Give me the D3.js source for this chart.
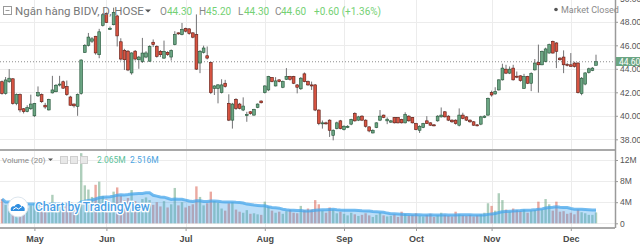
<!DOCTYPE html>
<html>
<head>
<meta charset="utf-8">
<script src="https://cdn.jsdelivr.net/npm/d3@7"></script>
<style>
  body { margin: 0; background: #fff; }
  svg { display: block; font-family: Roboto, "Liberation Sans", sans-serif; }
</style>
</head>
<body>
<div id="chart"></div>
<script>
// daily candles, one entry per trading day (late April .. 10 Dec)
var opens = [
  42.9, 41.9, 42.9, 43.15, 41.05, 41.8, 40.6, 40.35, 40.6, 40.0,
  41.7, 41.8, 40.9, 40.5, 41.95, 42.05, 42.65, 42.9, 42.5, 41.6,
  41.0, 40.8, 41.9, 45.4, 46.0, 46.35, 46.77, 45.2, 47.7, 48.7,
  47.35, 47.75, 48.5, 46.3, 45.57, 45.5, 43.65, 45.5, 44.77, 44.63,
  45.0, 44.65, 46.26, 45.91, 45.49, 44.91, 45.4, 45.0, 46.06, 47.06,
  46.91, 47.43, 47.4, 47.06, 46.91, 44.49, 45.4, 45.11, 44.54, 42.34,
  42.34, 41.97, 42.77, 41.06, 39.63, 41.4, 41.0, 40.49, 40.06, 40.34,
  40.06, 40.71, 41.26, 41.97, 42.2, 43.26, 42.54, 43.06, 42.43, 43.11,
  43.34, 43.34, 42.63, 42.3, 43.57, 42.91, 42.63, 42.63, 40.49, 39.34,
  39.4, 39.63, 38.34, 38.91, 39.57, 38.83, 39.0, 39.29, 40.2, 39.63,
  39.97, 39.63, 39.06, 38.54, 39.0, 39.63, 40.06, 39.57, 39.46, 39.86,
  39.86, 39.69, 39.4, 39.97, 39.86, 39.34, 38.77, 39.0, 39.57, 39.4,
  39.23, 39.57, 39.91, 40.34, 39.97, 39.63, 39.63, 39.2, 40.06, 39.91,
  39.63, 39.49, 39.23, 39.29, 39.86, 40.06, 41.97, 41.86, 42.2, 43.06,
  43.97, 43.63, 44.06, 43.37, 43.4, 42.34, 43.34, 42.77, 43.91, 44.54,
  44.34, 44.63, 45.34, 46.34, 46.2, 44.91, 45.0, 44.37, 44.34, 44.49,
  44.49, 41.9, 42.7, 43.7, 43.86, 44.3
];
var highs = [
  43.0, 43.3, 43.97, 43.2, 41.9, 41.9, 40.65, 40.9, 41.8, 41.1,
  42.5, 41.9, 41.1, 41.45, 43.4, 42.7, 43.4, 43.0, 43.0, 41.7,
  41.05, 41.9, 44.8, 46.1, 47.05, 46.7, 46.8, 47.4, 48.75, 48.8,
  47.6, 49.2, 48.6, 46.6, 45.7, 45.6, 45.4, 45.6, 45.1, 46.63,
  45.5, 46.0, 46.5, 46.0, 45.6, 46.4, 45.5, 45.65, 47.2, 47.1,
  47.9, 47.5, 47.45, 47.1, 48.63, 45.6, 45.97, 45.9, 44.6, 42.6,
  42.7, 43.11, 43.06, 41.83, 41.1, 41.5, 41.1, 41.57, 40.34, 40.4,
  40.6, 41.05, 41.3, 42.6, 43.4, 43.3, 43.29, 43.1, 43.0, 44.06,
  43.4, 43.4, 42.7, 43.3, 43.69, 43.0, 42.91, 42.7, 40.55, 39.6,
  39.5, 39.7, 38.85, 39.5, 39.65, 39.2, 39.2, 39.75, 40.3, 40.0,
  40.05, 39.7, 39.1, 38.85, 39.45, 40.49, 40.1, 39.86, 39.65, 39.9,
  39.9, 39.75, 40.3, 40.05, 39.9, 39.4, 39.2, 39.4, 39.97, 39.45,
  39.3, 40.05, 40.71, 40.4, 40.05, 39.7, 39.7, 40.63, 40.26, 39.97,
  39.7, 39.55, 39.3, 40.0, 40.05, 41.55, 42.14, 42.43, 43.1, 44.43,
  44.34, 44.2, 44.34, 43.77, 43.45, 43.57, 43.4, 43.7, 44.83, 46.06,
  45.55, 45.8, 46.14, 46.4, 46.26, 45.0, 45.57, 44.5, 45.34, 44.6,
  44.55, 43.3, 43.7, 44.1, 44.15, 45.2
];
var lows = [
  41.8, 41.8, 42.8, 40.95, 40.9, 40.3, 40.2, 40.3, 40.5, 39.9,
  41.6, 41.1, 40.6, 40.45, 41.9, 42.0, 42.5, 42.3, 41.7, 40.85,
  40.7, 40.0, 41.8, 45.35, 45.9, 46.2, 45.2, 44.9, 47.6, 47.9,
  47.3, 47.7, 45.9, 44.7, 43.9, 43.8, 43.5, 44.7, 44.0, 44.5,
  44.9, 44.6, 45.85, 44.95, 45.0, 44.85, 45.1, 44.7, 46.0, 46.9,
  46.85, 47.1, 46.9, 46.6, 43.9, 43.63, 45.3, 44.8, 41.85, 41.77,
  41.06, 41.9, 42.4, 39.55, 38.91, 40.5, 40.55, 40.4, 39.49, 40.1,
  40.0, 40.65, 41.05, 41.9, 42.1, 42.85, 42.5, 42.85, 42.35, 43.05,
  43.0, 42.7, 41.91, 42.2, 42.85, 42.55, 42.2, 40.4, 39.2, 38.91,
  39.25, 38.2, 37.91, 38.85, 38.85, 38.75, 38.95, 39.2, 39.5, 39.55,
  39.55, 39.0, 38.6, 38.5, 38.95, 39.55, 39.8, 39.29, 39.4, 39.35,
  39.35, 39.35, 39.35, 39.5, 39.35, 38.77, 38.54, 38.95, 39.3, 39.15,
  39.1, 39.5, 39.85, 39.85, 39.55, 39.4, 39.25, 39.1, 39.7, 39.55,
  39.4, 39.15, 39.1, 39.2, 39.8, 40.0, 41.63, 41.8, 42.15, 43.0,
  43.55, 43.55, 43.0, 43.2, 42.9, 42.3, 42.7, 42.1, 43.85, 41.97,
  44.3, 44.55, 45.3, 45.3, 44.06, 44.7, 43.63, 44.2, 44.2, 44.1,
  41.9, 41.75, 42.6, 43.6, 43.8, 44.3
];
var closes = [
  41.9, 43.05, 43.2, 41.05, 41.8, 40.5, 40.35, 40.7, 41.0, 41.05,
  41.97, 41.2, 40.75, 41.4, 42.2, 42.6, 42.7, 42.35, 41.8, 40.9,
  40.85, 41.8, 44.75, 46.0, 46.7, 46.55, 45.35, 47.15, 48.6, 47.95,
  47.45, 48.8, 46.8, 44.83, 44.77, 43.9, 45.35, 44.83, 45.0, 45.34,
  45.35, 45.9, 46.06, 45.06, 45.2, 45.49, 45.2, 45.57, 46.91, 46.97,
  47.34, 47.2, 47.0, 46.69, 43.97, 45.49, 45.77, 44.91, 41.97, 42.54,
  42.63, 42.63, 42.49, 39.63, 41.0, 40.63, 40.63, 40.83, 40.1, 40.2,
  40.54, 41.0, 41.11, 42.54, 43.34, 42.91, 42.97, 42.91, 42.91, 43.34,
  43.11, 42.77, 42.43, 43.2, 42.91, 42.63, 42.54, 40.49, 39.34, 39.4,
  39.34, 38.77, 38.77, 39.4, 38.91, 39.11, 39.11, 39.69, 39.57, 39.91,
  39.63, 39.11, 38.71, 38.77, 39.4, 39.97, 39.86, 39.71, 39.57, 39.4,
  39.4, 39.4, 40.11, 39.57, 39.4, 38.83, 39.11, 39.34, 39.34, 39.2,
  39.2, 39.97, 40.06, 39.91, 39.63, 39.49, 39.34, 40.06, 39.77, 39.63,
  39.49, 39.2, 39.2, 39.91, 39.97, 41.49, 41.77, 42.06, 43.06, 44.06,
  43.63, 43.97, 43.06, 43.34, 43.0, 43.34, 42.77, 43.6, 44.49, 44.34,
  45.49, 45.69, 46.06, 45.34, 45.49, 44.77, 44.34, 44.34, 44.2, 44.2,
  41.97, 43.2, 43.65, 44.0, 44.06, 44.6
];
// volume in millions of shares
var volumes = [
  4.6, 3.5, 4.0, 4.3, 3.2, 3.8, 3.3, 2.9, 3.4, 3.8,
  3.0, 3.6, 3.0, 3.3, 5.4, 3.4, 3.9, 3.2, 3.4, 4.0,
  2.9, 3.7, 13.3, 7.2, 6.4, 5.0, 7.3, 7.9, 5.2, 4.6,
  3.8, 6.0, 6.8, 5.2, 4.4, 4.8, 6.3, 4.2, 3.8, 4.6,
  4.9, 4.4, 3.5, 4.0, 3.2, 4.2, 3.0, 3.6, 6.7, 3.4,
  4.0, 3.0, 3.3, 3.6, 7.0, 5.0, 3.4, 3.8, 6.0, 4.2,
  3.9, 2.8, 2.4, 3.8, 4.0, 2.6, 2.2, 2.0, 2.5, 1.8,
  1.9, 1.7, 1.6, 4.1, 3.2, 2.4, 2.0, 2.2, 1.8, 2.3,
  2.6, 2.0, 1.9, 3.3, 2.5, 2.8, 2.6, 4.4, 3.6, 2.4,
  2.0, 3.0, 2.6, 1.9, 2.2, 1.8, 1.5, 2.0, 1.7, 1.4,
  1.6, 1.9, 1.5, 1.2, 1.6, 2.0, 1.5, 1.3, 1.4, 1.7,
  1.2, 2.2, 1.8, 1.5, 1.6, 1.9, 1.4, 1.3, 1.6, 1.8,
  1.2, 1.5, 2.0, 1.6, 1.4, 1.3, 2.2, 1.7, 1.5, 1.4,
  1.6, 1.3, 1.5, 1.7, 2.0, 3.8, 3.3, 2.4, 5.7, 4.4,
  2.6, 2.2, 2.8, 2.5, 2.3, 2.6, 2.0, 2.4, 2.5, 4.1,
  2.6, 4.6, 3.6, 2.4, 4.1, 2.2, 2.3, 1.8, 2.0, 1.7,
  2.6, 2.1, 1.9, 1.6, 1.6, 2.065
];

var monthIndex = [9, 29, 51, 73, 95, 115, 136, 158];
var monthLabels = ["May", "Jun", "Jul", "Aug", "Sep", "Oct", "Nov", "Dec"];
var priceTicks = [50, 48, 46, 44, 42, 40, 38];
var volumeTicks = [0, 4, 8, 12];
var volumeTickLabels = ["0", "4M", "8M", "12M"];
var lastPrice = 44.60;
var legendKeys = ["O", "H", "L", "C"];
var legendValues = ["44.30", "45.20", "44.30", "44.60"];
var legendChange = "+0.60 (+1.36%)";
var volumeLegendValues = ["2.065M", "2.516M"];
var maLength = 20;

var drawChart = (function () {
    const width = 640, height = 245;
    const axisX = 615;
    const priceBottom = 150, volumeBottom = 228;

    var svg = d3.select("#chart").append("svg")
        .attr("width", width)
        .attr("height", height);

    var x = d3.scaleLinear().domain([0, opens.length - 1]).range([2, 596]);
    var y = d3.scaleLinear().domain([38, 48]).range([139.3, 21.8]);
    var yv = d3.scaleLinear().domain([0, 12]).range([223.3, 160]);

    var candles = opens.map(function (o, i) {
        return { i: i, o: o, h: highs[i], l: lows[i], c: closes[i], v: volumes[i] };
    });

    // 20 day moving average of volume
    var ma = candles.map(function (d, i) {
        return { i: i, v: d3.mean(volumes.slice(Math.max(0, i - maLength + 1), i + 1)) };
    });

    svg.append("defs").append("clipPath").attr("id", "priceClip")
        .append("rect").attr("x", 0).attr("y", 0).attr("width", axisX).attr("height", priceBottom);

    // grid
    var grid = svg.append("g").attr("stroke", "#ececec").attr("stroke-width", 1);
    grid.selectAll(".vg").data(monthIndex).enter().append("line")
        .attr("x1", function (d) { return Math.round(x(d)) + 0.5; })
        .attr("x2", function (d) { return Math.round(x(d)) + 0.5; })
        .attr("y1", 0).attr("y2", volumeBottom);
    grid.selectAll(".pg").data(priceTicks.filter(function (d) { return d < 50; })).enter().append("line")
        .attr("x1", 0).attr("x2", axisX)
        .attr("y1", function (d) { return Math.round(y(d)) + 0.5; })
        .attr("y2", function (d) { return Math.round(y(d)) + 0.5; });
    grid.selectAll(".vgr").data(volumeTicks).enter().append("line")
        .attr("x1", 0).attr("x2", axisX)
        .attr("y1", function (d) { return Math.round(yv(d)) + 0.5; })
        .attr("y2", function (d) { return Math.round(yv(d)) + 0.5; });

    // last price dotted line
    svg.append("line")
        .attr("x1", 0).attr("x2", axisX)
        .attr("y1", y(lastPrice)).attr("y2", y(lastPrice))
        .attr("stroke", "#8c8c8c").attr("stroke-width", 1)
        .attr("stroke-dasharray", "1,2");

    // candles
    var bodyW = 2.8;
    var priceG = svg.append("g").attr("clip-path", "url(#priceClip)");
    priceG.selectAll(".wick").data(candles).enter().append("line")
        .attr("x1", function (d) { return x(d.i); })
        .attr("x2", function (d) { return x(d.i); })
        .attr("y1", function (d) { return y(d.h); })
        .attr("y2", function (d) { return y(d.l); })
        .attr("stroke", "#737375").attr("stroke-width", 1);
    priceG.selectAll(".body").data(candles).enter().append("rect")
        .attr("x", function (d) { return x(d.i) - bodyW / 2; })
        .attr("y", function (d) { return y(Math.max(d.o, d.c)); })
        .attr("width", bodyW)
        .attr("height", function (d) { return Math.max(1, Math.abs(y(d.o) - y(d.c))); })
        .attr("fill", function (d) { return d.c >= d.o ? "#6ba583" : "#d75442"; })
        .attr("stroke", function (d) { return d.c >= d.o ? "#225437" : "#5b1a13"; })
        .attr("stroke-width", 0.6);

    // volume bars
    svg.append("g").selectAll("rect").data(candles).enter().append("rect")
        .attr("x", function (d) { return x(d.i) - 1.2; })
        .attr("y", function (d) { return yv(d.v); })
        .attr("width", 2.4)
        .attr("height", function (d) { return yv(0) - yv(d.v); })
        .attr("fill", function (d) { return d.c >= d.o ? "rgba(107,165,131,0.55)" : "rgba(215,84,66,0.5)"; });

    // volume MA area + line
    svg.append("path").datum(ma)
        .attr("d", d3.area()
            .x(function (d) { return x(d.i); })
            .y0(yv(0))
            .y1(function (d) { return yv(d.v); }))
        .attr("fill", "rgba(60,160,235,0.35)");
    svg.append("path").datum(ma)
        .attr("d", d3.line()
            .x(function (d) { return x(d.i); })
            .y(function (d) { return yv(d.v); }))
        .attr("fill", "none")
        .attr("stroke", "rgba(70,165,235,0.75)")
        .attr("stroke-width", 3);

    // pane borders
    svg.append("line").attr("x1", 0).attr("x2", axisX).attr("y1", priceBottom).attr("y2", priceBottom)
        .attr("stroke", "#a9a9a9").attr("stroke-width", 2);
    svg.append("line").attr("x1", 0).attr("x2", axisX).attr("y1", volumeBottom).attr("y2", volumeBottom)
        .attr("stroke", "#a9a9a9").attr("stroke-width", 2);

    // right price and volume axes
    var pAxis = svg.append("g").attr("transform", "translate(" + axisX + ",0)")
        .call(d3.axisRight(y).tickValues(priceTicks).tickFormat(d3.format(".2f")).tickSize(3).tickPadding(2));
    var vAxis = svg.append("g").attr("transform", "translate(" + axisX + ",0)")
        .call(d3.axisRight(yv).tickValues(volumeTicks)
            .tickFormat(function (d, i) { return volumeTickLabels[i]; }).tickSize(3).tickPadding(2));
    [pAxis, vAxis].forEach(function (a) {
        a.select(".domain").remove();
        a.selectAll("line").attr("stroke", "#9a9a9a");
        a.selectAll("text").attr("fill", "#555").style("font-size", "8.5px");
    });
    svg.append("line").attr("x1", axisX + 0.5).attr("x2", axisX + 0.5).attr("y1", 0).attr("y2", volumeBottom)
        .attr("stroke", "#9a9a9a").attr("stroke-width", 1.5);

    // last price tag
    svg.append("rect")
        .attr("x", axisX + 1).attr("y", y(lastPrice) - 4.75)
        .attr("width", width - axisX).attr("height", 9)
        .attr("fill", "#6ba583");
    svg.append("text")
        .attr("x", axisX + 4).attr("y", y(lastPrice) + 2.8)
        .attr("fill", "#fff").style("font-size", "8.5px")
        .text(d3.format(".2f")(lastPrice));

    // time axis
    var tAxis = svg.append("g").attr("transform", "translate(0," + volumeBottom + ")")
        .call(d3.axisBottom(x).tickValues(monthIndex)
            .tickFormat(function (d, i) { return monthLabels[i]; }).tickSize(3).tickPadding(5));
    tAxis.select(".domain").remove();
    tAxis.selectAll("line").attr("stroke", "#9a9a9a");
    tAxis.selectAll("text").attr("fill", "#4a4a4a")
        .style("font-size", "9px").style("font-weight", "bold");

    // header legend
    var head = svg.append("g");
    head.append("rect").attr("x", 3.5).attr("y", 6.5).attr("width", 8).attr("height", 8)
        .attr("fill", "none").attr("stroke", "#9a9a9a");
    head.append("line").attr("x1", 5.5).attr("x2", 9.5).attr("y1", 10.5).attr("y2", 10.5)
        .attr("stroke", "#9a9a9a");
    head.append("text").attr("x", 15).attr("y", 15)
        .attr("fill", "#777").style("font-size", "11.5px")
        .text("Ngân hàng BIDV, D, HOSE");
    head.append("path").attr("d", "M145,9.5 L151,9.5 L148,12.5 Z").attr("fill", "#555");
    var keyX = [160, 199, 238, 275];
    var valX = [167, 206, 244, 281];
    head.selectAll(".k").data(legendKeys).enter().append("text")
        .attr("x", function (d, i) { return keyX[i]; }).attr("y", 15)
        .attr("fill", "#888").style("font-size", "10px").text(function (d) { return d; });
    head.selectAll(".v").data(legendValues).enter().append("text")
        .attr("x", function (d, i) { return valX[i]; }).attr("y", 15)
        .attr("fill", "#74d174").style("font-size", "10px").text(function (d) { return d; });
    head.append("text").attr("x", 314).attr("y", 15)
        .attr("fill", "#74d174").style("font-size", "10px").text(legendChange);

    head.append("circle").attr("cx", 556).attr("cy", 9.5).attr("r", 1.8).attr("fill", "#555");
    head.append("text").attr("x", 561).attr("y", 12.5)
        .attr("fill", "#8a8a8a").style("font-size", "9px").text("Market Closed");

    // volume legend
    var vl = svg.append("g");
    vl.append("text").attr("x", 2).attr("y", 163)
        .attr("fill", "#888").style("font-size", "8px").text("Volume (" + maLength + ")");
    vl.append("path").attr("d", "M48,158.5 L53,158.5 L50.5,161 Z").attr("fill", "#555");
    [60, 70, 80].forEach(function (bx) {
        vl.append("rect").attr("x", bx + 0.5).attr("y", 156.5).attr("width", 7).attr("height", 7)
            .attr("fill", "#e8e8e8").attr("stroke", "#cfcfcf");
    });
    vl.append("text").attr("x", 97).attr("y", 163)
        .attr("fill", "#5bbf9a").style("font-size", "8.5px").text(volumeLegendValues[0]);
    vl.append("text").attr("x", 130).attr("y", 163)
        .attr("fill", "#4aa3df").style("font-size", "8.5px").text(volumeLegendValues[1]);

    // watermark
    var wm = svg.append("g");
    wm.append("circle").attr("cx", 18).attr("cy", 207).attr("r", 10)
        .attr("fill", "#fff").attr("stroke", "#dde6ee");
    wm.append("path")
        .attr("d", "M11,211 C10,208 12,205.5 14.5,206.5 C15.5,203.5 19.5,203 21,206 C23.5,205.5 25.5,208 24.5,211 Z")
        .attr("fill", "#2f8ee0");
    wm.append("path").attr("d", "M13,209.5 L16,207.5 L18.5,209 L22,206.5")
        .attr("fill", "none").attr("stroke", "#fff").attr("stroke-width", 1);
    wm.append("text").attr("x", 35).attr("y", 211)
        .attr("fill", "#4a9fe6").attr("stroke", "#fff").attr("stroke-width", 2.5)
        .style("paint-order", "stroke").style("font-size", "12px").style("font-weight", "500")
        .text("Chart by TradingView");
}());
</script>
</body>
</html>
